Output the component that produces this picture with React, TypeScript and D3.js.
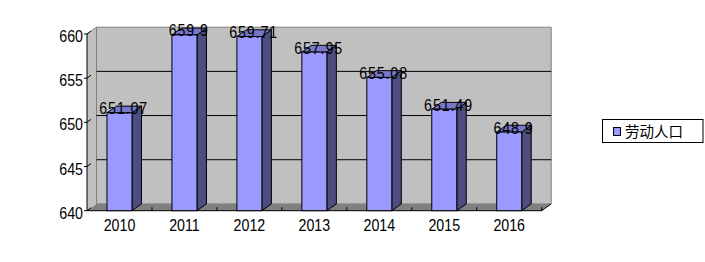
import React from "react";
import * as d3 from "d3";

const years = ["2010", "2011", "2012", "2013", "2014", "2015", "2016"];
const values = [651.07, 659.9, 659.71, 657.95, 655.08, 651.49, 648.9];
const valueLabels = ["651.07", "659.9", "659.71", "657.95", "655.08", "651.49", "648.9"];
const yTicks = [640, 645, 650, 655, 660];
const seriesName = "劳动人口";

const W = 705;
const H = 262;
const left = 87;
const right = 541.7;
const floorY = 210.7;
const topY = 34;
const DX = 9.5;
const DY = -6.8;

const FONT = "'Liberation Sans', Arial, sans-serif";
const SX = 0.89;

function Label(props: { x: number; y: number; anchor: "start" | "middle" | "end"; text: string; spacing?: number }) {
  return (
    <text
      transform={`translate(${props.x},${props.y}) scale(${SX},1)`}
      textAnchor={props.anchor}
      fontFamily={FONT}
      fontSize={16}
      letterSpacing={props.spacing ?? 0}
      fill="#000"
    >
      {props.text}
    </text>
  );
}

export default function App() {
  const x = d3.scaleBand<string>().domain(years).range([left, right]).paddingInner(0.615).paddingOuter(0.3077);
  const y = d3.scaleLinear().domain([640, 660]).range([floorY, topY]);
  const bw = x.bandwidth();
  const step = x.step();

  const poly = (pts: [number, number][]) => pts.map((p) => p.join(",")).join(" ");

  return (
    <svg width={W} height={H} style={{ position: "absolute", left: 0, top: 0, background: "#fff" }}>
      {/* left wall */}
      <polygon points={poly([[left, floorY], [left, y(660)], [left + DX, y(660) + DY], [left + DX, floorY + DY]])} fill="#c0c0c0" stroke="none" />
      {/* back wall */}
      <polygon points={poly([[left + DX, y(660) + DY], [right + DX, y(660) + DY], [right + DX, floorY + DY], [left + DX, floorY + DY]])} fill="#c0c0c0" stroke="#808080" strokeWidth={1} />
      <line x1={left + DX} x2={left + DX} y1={y(660) + DY} y2={floorY + DY} stroke="#808080" />
      <line x1={left} y1={y(660)} x2={left + DX} y2={y(660) + DY} stroke="#808080" />
      {/* gridlines */}
      {yTicks.filter((t) => t !== 640 && t !== 660).map((t) => (
        <line key={t} x1={left + DX} x2={right + DX} y1={y(t) + DY} y2={y(t) + DY} stroke="#000" strokeWidth={1} />
      ))}
      {/* floor */}
      <polygon points={poly([[left, floorY], [right, floorY], [right + DX, floorY + DY], [left + DX, floorY + DY]])} fill="#808080" stroke="none" />
      <line x1={left} x2={right} y1={floorY} y2={floorY} stroke="#000" />
      <line x1={right} y1={floorY} x2={right + DX} y2={floorY + DY} stroke="#000" />
      {years.map((_, i) => (
        <line key={i} x1={left + step * (i + 1)} x2={left + step * (i + 1)} y1={floorY} y2={floorY - 3.5} stroke="#000" />
      ))}
      {/* front y axis */}
      <line x1={left} x2={left} y1={y(660)} y2={floorY} stroke="#000" />
      {yTicks.map((t) => (
        <g key={t}>
          <line x1={left} y1={y(t)} x2={left + 4} y2={y(t) - 3} stroke="#000" />
          <line x1={left - 3} y1={y(t)} x2={left} y2={y(t)} stroke="#000" />
          <Label x={83} y={y(t) + 8} anchor="end" text={String(t)} />
        </g>
      ))}
      {/* bars */}
      {years.map((yr, i) => {
        const x0 = x(yr)!;
        const x1 = x0 + bw;
        const yt = y(values[i]);
        return (
          <g key={yr}>
            <polygon points={poly([[x1, yt], [x1 + DX, yt + DY], [x1 + DX, floorY + DY], [x1, floorY]])} fill="#4d4d80" stroke="#000" strokeWidth={1} strokeLinejoin="round" />
            <polygon points={poly([[x0, yt], [x1, yt], [x1 + DX, yt + DY], [x0 + DX, yt + DY]])} fill="#7878c8" stroke="#000" strokeWidth={1} strokeLinejoin="round" />
            <rect x={x0} y={yt} width={bw} height={floorY - yt} fill="#9999ff" stroke="#000" strokeWidth={1} />
          </g>
        );
      })}
      {/* data labels */}
      {years.map((yr, i) => (
        <Label key={yr} x={x(yr)! + bw / 2 + DX / 2 - 0.5} y={y(values[i]) + 1.5} anchor="middle" text={valueLabels[i]} spacing={1} />
      ))}
      {/* year labels */}
      {years.map((yr) => (
        <Label key={yr} x={x(yr)! + bw / 2} y={231} anchor="middle" text={yr} />
      ))}
      {/* legend */}
      <rect x={602.5} y={119.5} width={100.5} height={23} fill="#fff" stroke="#000" strokeWidth={1} />
      <rect x={613.5} y={127.5} width={7} height={8} fill="#9999ff" stroke="#000" strokeWidth={1} />
      <text x={625} y={136.5} fontFamily="'Noto Sans CJK SC', sans-serif" fontSize={14.5} fill="#000">
        {seriesName}
      </text>
    </svg>
  );
}
